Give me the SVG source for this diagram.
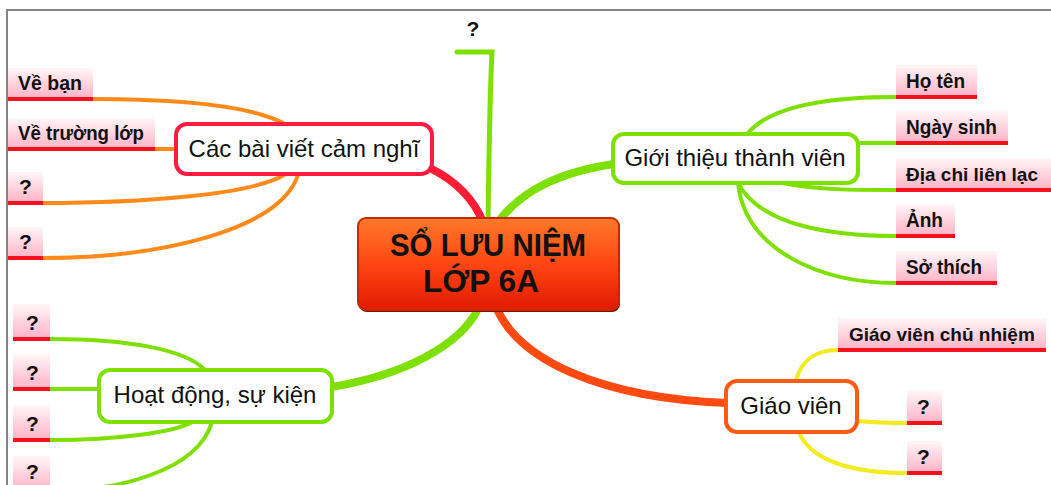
<svg xmlns="http://www.w3.org/2000/svg" width="1051" height="485" viewBox="0 0 1051 485">
  <defs>
    <linearGradient id="pink" x1="0" y1="0" x2="0" y2="1">
      <stop offset="0" stop-color="#fff6f8"/>
      <stop offset="1" stop-color="#ffb2c6"/>
    </linearGradient>
    <linearGradient id="core" x1="0" y1="0" x2="0" y2="1">
      <stop offset="0" stop-color="#ff7a2a"/>
      <stop offset="0.5" stop-color="#ff4614"/>
      <stop offset="1" stop-color="#e01a00"/>
    </linearGradient>
  </defs>
  <style>
    .frame { fill: none; stroke: #858585; stroke-width: 2; }
    .leaf .bg { fill: url(#pink); }
    .leaf .ul { stroke: #f5101e; stroke-width: 4; }
    .leaf text { font-family: 'Liberation Sans', Arial, sans-serif; font-weight: bold; font-size: 21px; fill: #111; }
    .leaf text.long { font-size: 19px; }
    .topic rect { fill: #fff; stroke-width: 4; }
    .topic text { font-family: 'Liberation Sans', Arial, sans-serif; font-size: 24px; fill: #111; text-anchor: middle; }
    .root-label { font-family: 'Liberation Sans', Arial, sans-serif; font-weight: bold; font-size: 32px; fill: #111; }
    .c { fill: none; stroke-linecap: round; }
    .green { stroke: #7ee000; }
    .orange { stroke: #ff8a1a; }
    .yellow { stroke: #f2ec1e; }
    .thin { stroke-width: 4; }
  </style>

  <rect width="1051" height="485" fill="#fff"/>
  <path class="frame" d="M7,485 V10 H1051"/>

  <!-- connectors -->
  <g id="connectors">
    <!-- main branches from the central node -->
    <path class="c" d="M430,168 C456,181 474,200 483,222" stroke="#ff1e34" stroke-width="8"/>
    <path class="c green" d="M488,222 C489,150 490,90 492,52 L457,52" stroke-width="5"/>
    <path class="c green" d="M498,222 C522,190 560,172 614,164" stroke-width="8"/>
    <path class="c green" d="M478,309 C460,345 405,375 331,387" stroke-width="8"/>
    <path class="c" d="M497,309 C520,360 600,398 727,403" stroke="#ff4a12" stroke-width="8"/>

    <!-- Các bài viết cảm nghĩ -->
    <path class="c orange thin" d="M93,99 C180,99 250,105 285,124"/>
    <path class="c orange thin" d="M155,149 L176,149"/>
    <path class="c orange thin" d="M43,203 C140,203 250,195 284,175"/>
    <path class="c orange thin" d="M43,258 C160,258 280,230 298,175"/>

    <!-- Giới thiệu thành viên -->
    <path class="c green thin" d="M748,133 C772,105 830,97 896,97"/>
    <path class="c green thin" d="M858,143 L896,143"/>
    <path class="c green thin" d="M782,183 C820,190 850,190 896,190"/>
    <path class="c green thin" d="M738,183 C760,225 830,236 896,236"/>
    <path class="c green thin" d="M738,183 C745,250 820,283 896,283"/>

    <!-- Hoạt động, sự kiện -->
    <path class="c green thin" d="M50,339 C130,339 185,350 204,369"/>
    <path class="c green thin" d="M50,389 L99,389"/>
    <path class="c green thin" d="M50,440 C120,440 175,432 192,422"/>
    <path class="c green thin" d="M50,491 C120,491 198,470 212,422"/>

    <!-- Giáo viên -->
    <path class="c yellow thin" d="M796,380 C802,360 815,350 838,350"/>
    <path class="c yellow thin" d="M857,421 C880,423 890,423 907,423"/>
    <path class="c yellow thin" d="M799,432 C810,460 850,473 907,473"/>
  </g>

  <!-- central node -->
  <g id="root">
    <rect x="359" y="220" width="261" height="92" rx="8" fill="#7a1000"/>
    <rect x="358" y="218" width="261" height="92" rx="8" fill="url(#core)" stroke="#c42a00" stroke-width="2"/>
    <text class="root-label" x="390" y="256" textLength="196" lengthAdjust="spacingAndGlyphs">SỔ LƯU NIỆM</text>
    <text class="root-label" x="423" y="292" textLength="116" lengthAdjust="spacingAndGlyphs">LỚP 6A</text>
  </g>

  <!-- topics -->
  <g id="topic-bai-viet" class="topic">
    <rect x="176" y="124" width="256" height="50" rx="11" stroke="#ff1c40"/>
    <text x="304" y="157">Các bài viết cảm nghĩ</text>
  </g>
  <g id="topic-thanh-vien" class="topic">
    <rect x="613" y="134" width="245" height="49" rx="11" stroke="#7ee000"/>
    <text x="735" y="166">Giới thiệu thành viên</text>
  </g>
  <g id="topic-hoat-dong" class="topic">
    <rect x="99" y="370" width="233" height="52" rx="11" stroke="#7ee000"/>
    <text x="215" y="403">Hoạt động, sự kiện</text>
  </g>
  <g id="topic-giao-vien" class="topic">
    <rect x="726" y="381" width="131" height="51" rx="11" stroke="#ff5a14"/>
    <text x="791" y="414">Giáo viên</text>
  </g>

  <!-- top branch label -->
  <g id="leaf-top">
    <text x="473" y="36" font-family="'Liberation Sans', Arial, sans-serif" font-weight="bold" font-size="21" fill="#111" text-anchor="middle">?</text>
  </g>

  <!-- leaves: Các bài viết cảm nghĩ -->
  <g id="leaf-ve-ban" class="leaf">
    <rect class="bg" x="8" y="68" width="85" height="31"/>
    <line class="ul" x1="8" y1="99" x2="93" y2="99"/>
    <text x="18" y="90" textLength="64" lengthAdjust="spacingAndGlyphs">Về bạn</text>
  </g>
  <g id="leaf-ve-truong-lop" class="leaf">
    <rect class="bg" x="8" y="118" width="147" height="31"/>
    <line class="ul" x1="8" y1="149" x2="155" y2="149"/>
    <text x="18" y="140" textLength="126" lengthAdjust="spacingAndGlyphs">Về trường lớp</text>
  </g>
  <g id="leaf-bv-3" class="leaf">
    <rect class="bg" x="8" y="172" width="35" height="31"/>
    <line class="ul" x1="8" y1="203" x2="43" y2="203"/>
    <text x="19" y="194">?</text>
  </g>
  <g id="leaf-bv-4" class="leaf">
    <rect class="bg" x="8" y="227" width="35" height="31"/>
    <line class="ul" x1="8" y1="258" x2="43" y2="258"/>
    <text x="19" y="249">?</text>
  </g>

  <!-- leaves: Giới thiệu thành viên -->
  <g id="leaf-ho-ten" class="leaf">
    <rect class="bg" x="896" y="65" width="81" height="32"/>
    <line class="ul" x1="896" y1="97" x2="977" y2="97"/>
    <text x="906" y="88" textLength="59" lengthAdjust="spacingAndGlyphs">Họ tên</text>
  </g>
  <g id="leaf-ngay-sinh" class="leaf">
    <rect class="bg" x="896" y="111" width="112" height="32"/>
    <line class="ul" x1="896" y1="143" x2="1008" y2="143"/>
    <text x="906" y="134" textLength="91" lengthAdjust="spacingAndGlyphs">Ngày sinh</text>
  </g>
  <g id="leaf-dia-chi" class="leaf">
    <rect class="bg" x="896" y="158" width="155" height="32"/>
    <line class="ul" x1="896" y1="190" x2="1051" y2="190"/>
    <text class="long" x="906" y="181">Địa chỉ liên lạc</text>
  </g>
  <g id="leaf-anh" class="leaf">
    <rect class="bg" x="896" y="204" width="59" height="32"/>
    <line class="ul" x1="896" y1="236" x2="955" y2="236"/>
    <text x="906" y="227" textLength="37" lengthAdjust="spacingAndGlyphs">Ảnh</text>
  </g>
  <g id="leaf-so-thich" class="leaf">
    <rect class="bg" x="896" y="251" width="101" height="32"/>
    <line class="ul" x1="896" y1="283" x2="997" y2="283"/>
    <text x="906" y="274" textLength="76" lengthAdjust="spacingAndGlyphs">Sở thích</text>
  </g>

  <!-- leaves: Hoạt động, sự kiện -->
  <g id="leaf-hd-1" class="leaf">
    <rect class="bg" x="13" y="304" width="37" height="35"/>
    <line class="ul" x1="13" y1="339" x2="50" y2="339"/>
    <text x="26" y="330">?</text>
  </g>
  <g id="leaf-hd-2" class="leaf">
    <rect class="bg" x="13" y="354" width="37" height="35"/>
    <line class="ul" x1="13" y1="389" x2="50" y2="389"/>
    <text x="26" y="380">?</text>
  </g>
  <g id="leaf-hd-3" class="leaf">
    <rect class="bg" x="13" y="405" width="37" height="35"/>
    <line class="ul" x1="13" y1="440" x2="50" y2="440"/>
    <text x="26" y="431">?</text>
  </g>
  <g id="leaf-hd-4" class="leaf">
    <rect class="bg" x="13" y="456" width="37" height="35"/>
    <line class="ul" x1="13" y1="491" x2="50" y2="491"/>
    <text x="26" y="479">?</text>
  </g>

  <!-- leaves: Giáo viên -->
  <g id="leaf-gvcn" class="leaf">
    <rect class="bg" x="838" y="318" width="208" height="32"/>
    <line class="ul" x1="838" y1="350" x2="1046" y2="350"/>
    <text class="long" x="849" y="341">Giáo viên chủ nhiệm</text>
  </g>
  <g id="leaf-gv-2" class="leaf">
    <rect class="bg" x="907" y="391" width="35" height="32"/>
    <line class="ul" x1="907" y1="423" x2="942" y2="423"/>
    <text x="917" y="414">?</text>
  </g>
  <g id="leaf-gv-3" class="leaf">
    <rect class="bg" x="907" y="441" width="35" height="32"/>
    <line class="ul" x1="907" y1="473" x2="942" y2="473"/>
    <text x="917" y="464">?</text>
  </g>
</svg>
